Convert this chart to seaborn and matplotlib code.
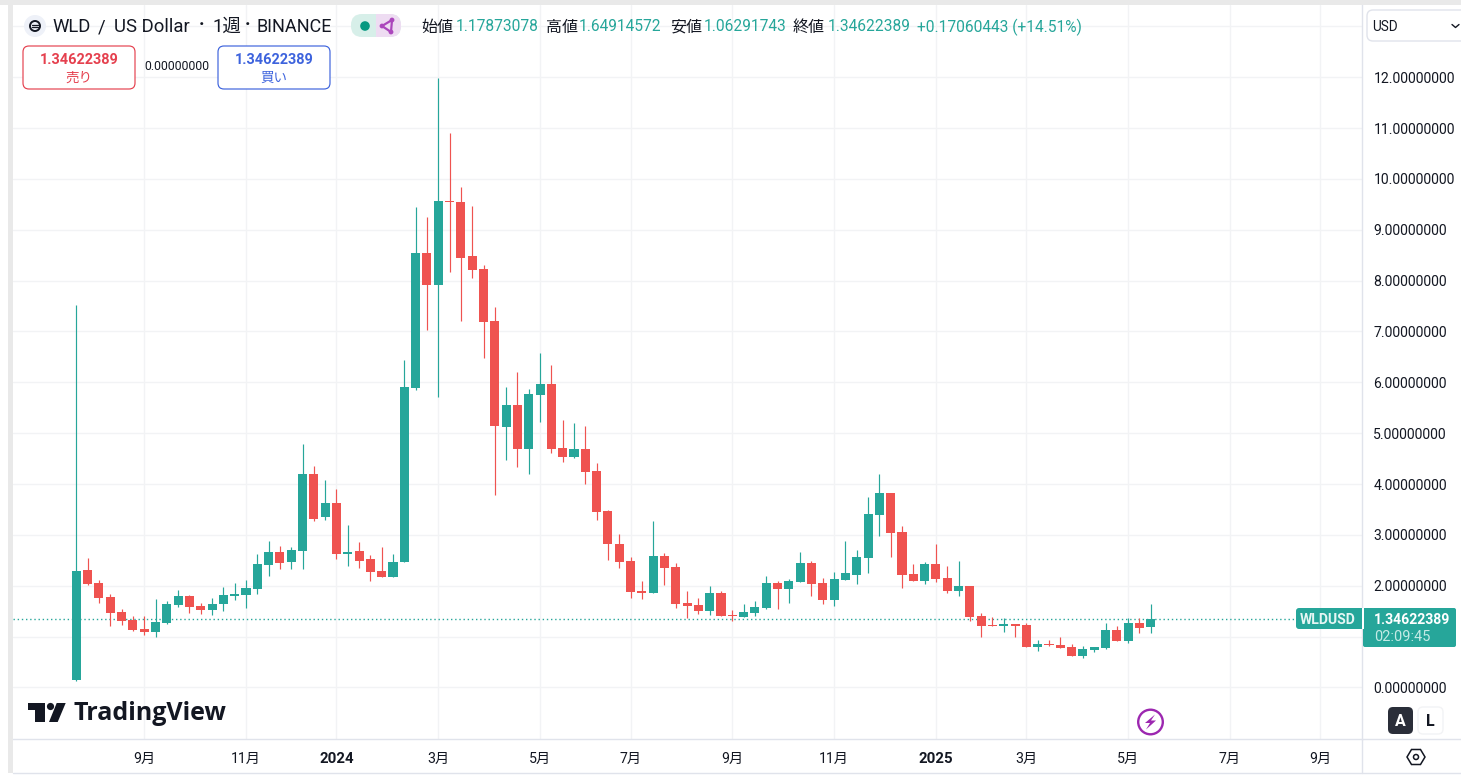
import numpy as np
import pandas as pd
import matplotlib
matplotlib.use("Agg")
import matplotlib.pyplot as plt
from matplotlib.patches import Circle, FancyBboxPatch, Polygon, Rectangle
import seaborn as sns

opens = [0.15, 2.31, 2.05, 1.78, 1.48, 1.325, 1.15, 1.09, 1.27, 1.62, 1.80, 1.60, 1.52, 1.64, 1.80, 1.82,
         1.935, 2.41, 2.66, 2.47, 2.68, 4.20, 3.35, 3.63, 2.62, 2.68, 2.53, 2.29, 2.17, 2.47, 5.89, 8.54,
         7.91, 9.56, 9.55, 8.48, 8.23, 7.20, 5.12, 5.55, 4.69, 5.75, 5.97, 4.71, 4.53, 4.69, 4.26, 3.47,
         2.82, 2.49, 1.90, 1.857, 2.58, 2.37, 1.66, 1.62, 1.50, 1.857, 1.42, 1.385, 1.46, 1.56, 2.05, 1.935,
         2.07, 2.45, 2.05, 1.72, 2.11, 2.21, 2.55, 3.39, 3.82, 3.06, 2.23, 2.09, 2.43, 2.15, 1.90, 1.99,
         1.40, 1.23, 1.21, 1.25, 1.23, 0.795, 0.855, 0.835, 0.795, 0.62, 0.735, 0.775, 1.13, 0.91, 1.27, 1.17873078]
closes = [2.296, 2.03, 1.76, 1.46, 1.31, 1.13, 1.09, 1.286, 1.64, 1.80, 1.58, 1.52, 1.64, 1.82, 1.84, 1.95,
          2.43, 2.66, 2.45, 2.70, 4.20, 3.32, 3.63, 2.62, 2.66, 2.49, 2.27, 2.17, 2.47, 5.91, 8.54, 7.91,
          9.56, 9.54, 8.44, 8.21, 7.18, 5.14, 5.55, 4.69, 5.77, 5.97, 4.69, 4.53, 4.69, 4.24, 3.45, 2.82,
          2.47, 1.88, 1.86, 2.58, 2.35, 1.64, 1.60, 1.50, 1.857, 1.40, 1.40, 1.48, 1.58, 2.05, 1.935, 2.09,
          2.45, 2.03, 1.72, 2.13, 2.25, 2.56, 3.41, 3.82, 3.04, 2.21, 2.09, 2.43, 2.13, 1.90, 1.99, 1.385,
          1.21, 1.21, 1.25, 1.21, 0.795, 0.855, 0.835, 0.775, 0.62, 0.755, 0.795, 1.13, 0.91, 1.27, 1.17, 1.34622389]
highs = [7.52, 2.545, 2.11, 1.84, 1.54, 1.40, 1.40, 1.74, 1.70, 1.915, 1.82, 1.66, 1.76, 1.97, 2.05, 2.11,
         2.62, 2.88, 2.78, 2.76, 4.78, 4.35, 4.07, 3.90, 3.19, 2.86, 2.60, 2.76, 2.62, 6.44, 9.45, 9.25,
         11.98, 10.90, 9.84, 9.47, 8.31, 7.48, 5.91, 6.20, 5.87, 6.58, 6.34, 5.26, 5.20, 5.14, 4.41, 3.49,
         3.02, 2.56, 2.09, 3.27, 2.64, 2.45, 1.90, 1.76, 1.99, 1.90, 1.52, 1.64, 1.70, 2.19, 2.09, 2.13,
         2.66, 2.49, 2.15, 2.27, 2.88, 2.70, 3.74, 4.20, 3.82, 3.17, 2.43, 2.47, 2.82, 2.39, 2.49, 1.99,
         1.46, 1.385, 1.365, 1.25, 1.27, 0.93, 0.93, 0.99, 0.855, 0.815, 0.795, 1.27, 1.21, 1.365, 1.365, 1.64914572]
lows = [0.13, 2.01, 1.66, 1.21, 1.23, 1.11, 1.03, 0.99, 1.25, 1.58, 1.46, 1.44, 1.42, 1.50, 1.72, 1.56,
        1.84, 2.19, 2.33, 2.33, 2.33, 3.27, 3.30, 2.53, 2.39, 2.35, 2.09, 2.17, 2.17, 2.47, 5.85, 7.03,
        5.71, 8.17, 7.20, 8.05, 6.48, 3.78, 4.47, 4.33, 4.20, 5.22, 4.61, 4.43, 4.51, 4.00, 3.29, 2.51,
        2.35, 1.76, 1.74, 1.857, 2.01, 1.56, 1.365, 1.44, 1.42, 1.40, 1.31, 1.385, 1.40, 1.54, 1.54, 1.66,
        2.07, 1.80, 1.64, 1.60, 2.11, 2.03, 2.25, 2.98, 2.56, 1.95, 2.09, 2.03, 2.07, 1.86, 1.80, 1.31,
        0.99, 1.21, 1.09, 0.99, 0.795, 0.715, 0.815, 0.775, 0.62, 0.58, 0.695, 0.755, 0.91, 0.875, 1.07, 1.06291743]

y_ticks = list(range(14))
y_labels = ["0.00000000", "", "2.00000000", "3.00000000", "4.00000000", "5.00000000", "6.00000000",
            "7.00000000", "8.00000000", "9.00000000", "10.00000000", "11.00000000", "12.00000000", ""]
x_tick_idx = [6, 15, 23, 32, 41, 49, 58, 67, 76, 84, 93, 102, 110]
x_tick_labels = ["9月", "11月", "2024", "3月", "5月", "7月", "9月", "11月", "2025", "3月", "5月", "7月", "9月"]
last_price = closes[-1]

GREEN = "#26a69a"
RED = "#ef5350"
GRID = "#f2f3f5"
INK = "#131722"
W, H = 1461, 777

sns.set_theme(style="white")
plt.rcParams["font.family"] = ["Roboto", "Noto Sans CJK JP", "DejaVu Sans"]

df = pd.DataFrame({"idx": np.arange(len(opens)), "open": opens, "close": closes, "high": highs, "low": lows})
df["up"] = df["close"] >= df["open"]
df["bottom"] = df[["open", "close"]].min(axis=1)
df["body"] = (df["close"] - df["open"]).abs()

fig = plt.figure(figsize=(W / 100, H / 100), dpi=100, facecolor="white")
L, R, T, B = 13, 1362.3, 5, 739.3
ax = fig.add_axes([L / W, 1 - B / H, (R - L) / W, (B - T) / H])
ax.set_facecolor("white")

ax.axhline(last_price, color=GREEN, lw=1, ls=(0, (1, 2)), zorder=1.5)
for up, colour in [(True, GREEN), (False, RED)]:
    part = df[df["up"] == up]
    ax.vlines(part["idx"], part["low"], part["high"], color=colour, lw=0.85, zorder=2)
    sns.barplot(data=part, x="idx", y="body", bottom=part["bottom"].to_numpy(), native_scale=True,
                color=colour, saturation=1, width=0.8, errorbar=None, linewidth=0, ax=ax, zorder=3)

ax.set_xlim(-5.6, 113.7)
ax.set_ylim(-1.02, 13.42)
ax.set_xlabel("")
ax.set_ylabel("")
ax.set_xticks(x_tick_idx)
ax.set_xticklabels(x_tick_labels, fontsize=10.2, color=INK)
for lab in ax.get_xticklabels():
    if lab.get_text() in ("2024", "2025"):
        lab.set_fontweight("bold")
        lab.set_fontsize(10.8)
ax.yaxis.tick_right()
ax.set_yticks(y_ticks)
ax.set_yticklabels(y_labels, fontsize=10.1, color=INK)
ax.tick_params(axis="x", length=0, pad=9)
ax.tick_params(axis="y", length=0, pad=8)
ax.grid(True, color=GRID, lw=1)
ax.set_axisbelow(True)
for s in ["top", "left"]:
    ax.spines[s].set_visible(False)
for s in ["bottom", "right"]:
    ax.spines[s].set_color("#e0e3eb")
    ax.spines[s].set_linewidth(1)

# interface chrome, in pixel coordinates of the picture
ov = fig.add_axes([0, 0, 1, 1], zorder=10)
ov.set_xlim(0, W)
ov.set_ylim(H, 0)
ov.axis("off")
ov.patch.set_alpha(0)


def rbox(x0, y0, x1, y1, r=6, fc="white", ec="none", lw=1, z=2):
    p = FancyBboxPatch((x0 + r, y0 + r), x1 - x0 - 2 * r, y1 - y0 - 2 * r,
                       boxstyle=f"round,pad={r},rounding_size={r}", fc=fc, ec=ec, lw=lw, zorder=z)
    ov.add_patch(p)


def txt(x, y, s, px, color=INK, ha="left", weight="normal", z=5, family=None):
    kw = {"family": family} if family else {}
    ov.text(x, y + 1, s, fontsize=px * 0.72, color=color, ha=ha, va="center", fontweight=weight, zorder=z, **kw)


BAND = "#e9e9e9"
ov.add_patch(Rectangle((0, 0), W, 4.5, fc=BAND, ec="none", zorder=1))
ov.add_patch(Rectangle((8, 0), 5, 773, fc=BAND, ec="none", zorder=1))
ov.plot([13, W], [773, 773], color="#e0e3eb", lw=1, zorder=1)
ov.plot([R, R], [739, 773], color="#e0e3eb", lw=1, zorder=1)
ov.plot([R, W], [739.3, 739.3], color="#e0e3eb", lw=1, zorder=1)

# title row
ov.add_patch(Circle((35, 26), 11, fc="#eef1f8", ec="none", zorder=2))
ov.add_patch(Circle((35, 26), 5, fc="none", ec="#131722", lw=1.4, zorder=3))
ov.plot([32, 38], [24.8, 24.8], color="#131722", lw=0.9, zorder=3)
ov.plot([32, 38], [27.2, 27.2], color="#131722", lw=0.9, zorder=3)
txt(52, 26, "WLD", 18.5)
txt(102, 26, "/", 18.5, ha="center")
txt(114, 26, "US Dollar", 18.5)
txt(202, 24, "·", 18.5, ha="center", weight="bold")
txt(212, 26, "1週", 18.5)
txt(248, 24, "·", 18.5, ha="center", weight="bold")
txt(257, 26, "BINANCE", 18)

rbox(351, 14, 401, 37, r=11, fc="#d7efe9")
ov.add_patch(Rectangle((376, 14), 14, 23, fc="#eedcf2", ec="none", zorder=2.5))
rbox(378, 14, 401, 37, r=11, fc="#eedcf2", z=2.5)
ov.add_patch(Circle((365, 26), 4.8, fc="#089981", ec="none", zorder=3))
ov.plot([392, 382, 391, 392], [20, 26, 32, 20], color="#ab47bc", lw=1.6, zorder=3)
for cx, cy in [(392, 20), (382, 26), (391, 32)]:
    ov.add_patch(Circle((cx, cy), 2.4, fc="#ab47bc", ec="none", zorder=3))

OHLC_G = "#26a69a"
for x, s in [(421, "始値"), (546, "高値"), (670, "安値"), (793, "終値")]:
    txt(x, 26.5, s, 16)
for x, s in [(456, "1.17873078"), (579, "1.64914572"), (704, "1.06291743"), (828, "1.34622389")]:
    txt(x, 25.5, s, 15.5, color=OHLC_G)
txt(917, 26.5, "+0.17060443 (+14.51%)", 15.5, color=OHLC_G)

# order buttons
rbox(23, 46, 135, 89, fc="white", ec="#e5404e", lw=0.85)
txt(79, 59.5, "1.34622389", 14.5, color="#e5404e", ha="center", weight="bold")
txt(79, 76.5, "売り", 13.5, color="#e5404e", ha="center")
txt(176.5, 66, "0.00000000", 12.3, ha="center")
rbox(218, 46, 330, 89, fc="white", ec="#3d63dd", lw=0.85)
txt(274, 59.5, "1.34622389", 14.5, color="#3d63dd", ha="center", weight="bold")
txt(274, 76.5, "買い", 13.5, color="#3d63dd", ha="center")

# currency box
rbox(1367, 10, 1470, 41, fc="white", ec="#e0e3eb", lw=1)
txt(1372, 26, "USD", 13.5)
ov.plot([1452, 1455.5, 1459], [24.5, 27.5, 24.5], color=INK, lw=1, zorder=5)

# last-price tags
rbox(1296, 608, 1368, 629, r=3, fc=GREEN)
ov.add_patch(Rectangle((1362, 608), 1.5, 21, fc="white", ec="none", zorder=3))
txt(1328, 618.5, "WLDUSD", 14, color="#e6f6f4", ha="center", weight="bold")
rbox(1363, 608, 1456, 647, r=2, fc=GREEN)
txt(1374, 618.5, "1.34622389", 14, color="white", weight="bold")
txt(1374, 636, "02:09:45", 14.5, color="#c5ebe6")

# auto / log buttons
rbox(1388, 707, 1413, 734, r=5, fc="#2a2e39")
txt(1400.5, 720, "A", 16, color="white", ha="center", weight="bold")
rbox(1418, 707, 1443, 734, r=5, fc="white", ec=GRID)
txt(1430.5, 720, "L", 16, ha="center", weight="bold")

# lightning badge
ov.add_patch(Circle((1150.5, 722), 12.3, fc="white", ec="#9c27b0", lw=1.7, zorder=4))
ov.add_patch(Polygon([(1155, 714.5), (1145, 723), (1150, 723), (1146, 729.5), (1156, 720.5), (1151, 720.5)],
                     closed=True, fc="#9c27b0", ec="none", zorder=5))

# settings hexagon
ov.add_patch(Polygon([(1407, 757), (1411.5, 749.5), (1420.5, 749.5), (1425, 757), (1420.5, 764.5), (1411.5, 764.5)],
                     closed=True, fc="none", ec=INK, lw=1.1, zorder=5))
ov.add_patch(Circle((1416, 757), 2.5, fc="none", ec=INK, lw=1.1, zorder=5))

# wordmark
ov.add_patch(Polygon([(28, 703), (45, 703), (45, 722), (35, 722), (35, 709.5), (28, 709.5)],
                     closed=True, fc="#131722", ec="none", zorder=5))
ov.add_patch(Circle((50.5, 706.5), 3.6, fc="#131722", ec="none", zorder=5))
ov.add_patch(Polygon([(56.7, 703), (65.7, 703), (57.7, 722), (49, 722)],
                     closed=True, fc="#131722", ec="none", zorder=5))
txt(74, 712, "TradingView", 25, color="#131722", weight="bold", family="Open Sans")

fig.savefig("out.png", dpi=100, facecolor="white")
